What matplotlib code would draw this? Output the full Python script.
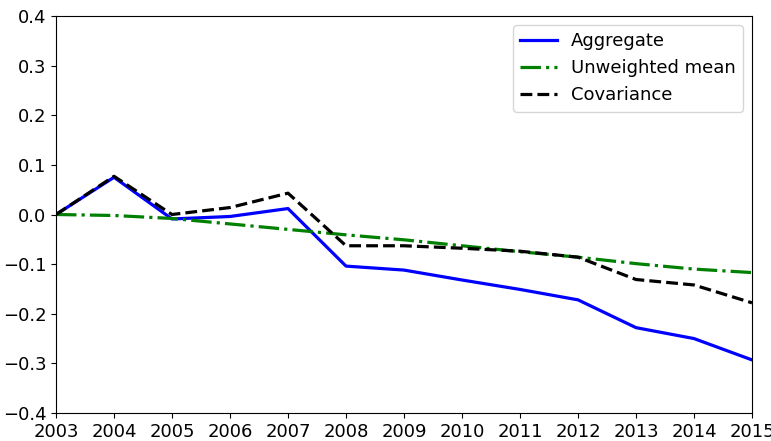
import numpy as np
import matplotlib
matplotlib.use("Agg")
import matplotlib.pyplot as plt

# values
years = list(range(2003, 2016))
aggregate = [0.0, 0.075, -0.009, -0.004, 0.012, -0.104, -0.112, -0.132, -0.151,
             -0.172, -0.228, -0.250, -0.293]
unweighted_mean = [0.0, -0.002, -0.008, -0.019, -0.030, -0.041, -0.051, -0.063,
                   -0.075, -0.086, -0.099, -0.110, -0.117]
covariance = [0.0, 0.077, 0.0, 0.014, 0.043, -0.063, -0.063, -0.068, -0.074,
              -0.086, -0.131, -0.142, -0.178]

plt.rcParams['font.size'] = 13

fig = plt.figure(figsize=(7.71, 4.41), dpi=100)
ax = fig.add_axes([56 / 771, 1 - 413 / 441, 696 / 771, 397 / 441])

ax.plot(years, aggregate, 'b-', lw=2.3, label='Aggregate')
ax.plot(years, unweighted_mean, 'g-.', lw=2.3, label='Unweighted mean')
ax.plot(years, covariance, 'k--', lw=2.3, label='Covariance')

ax.set_xlim(2003, 2015)
ax.set_ylim(-0.4, 0.4)
ax.set_xticks(years)
ax.set_yticks(np.arange(-0.4, 0.41, 0.1))
ax.legend(loc='upper right', fontsize=13)

fig.savefig('out.png', dpi=100)
